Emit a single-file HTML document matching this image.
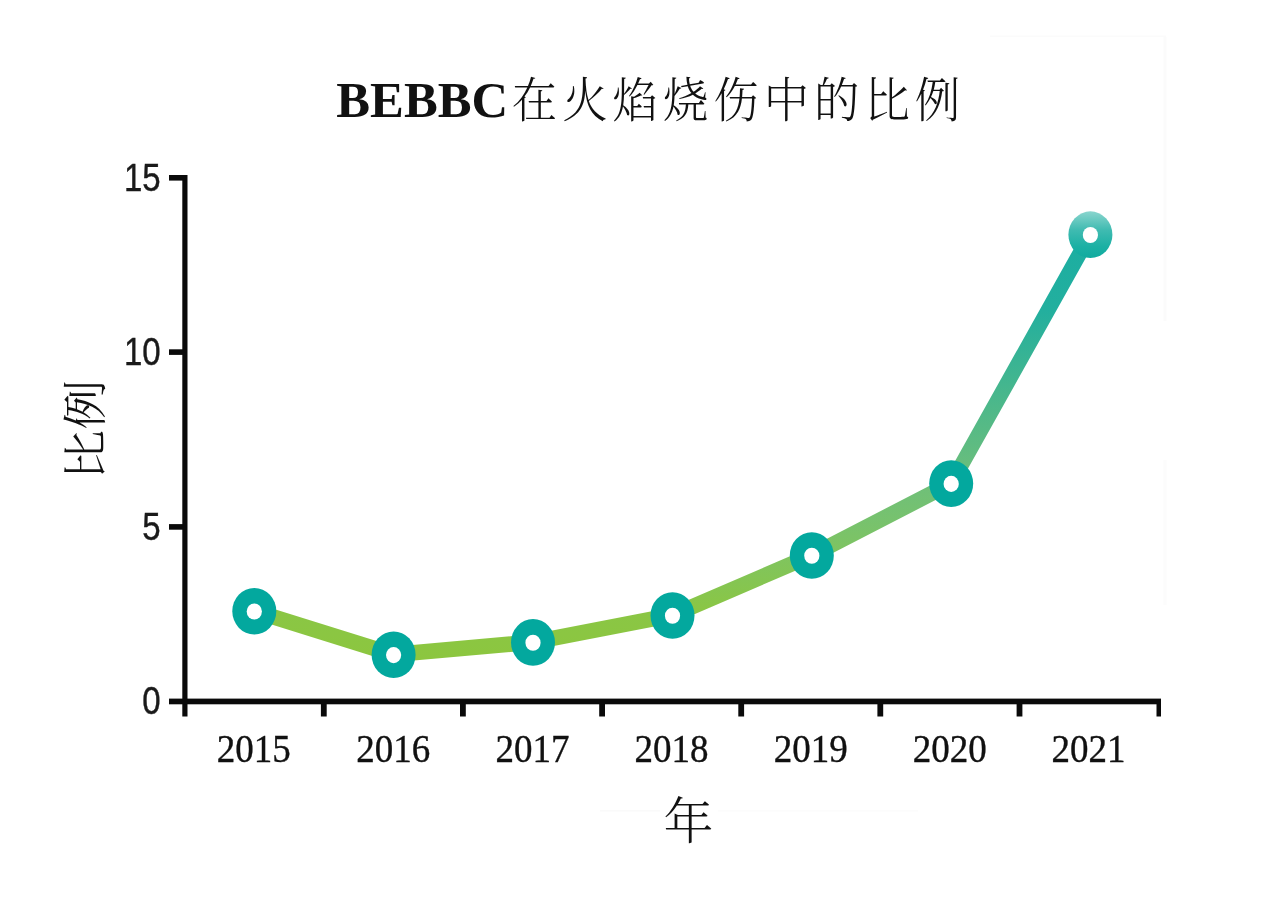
<!DOCTYPE html>
<html lang="zh-CN">
<head>
<meta charset="utf-8">
<title>BEBBC在火焰烧伤中的比例</title>
<style>
  html, body { margin: 0; padding: 0; background: #ffffff; }
  body { width: 1280px; height: 915px; overflow: hidden; }
  svg { display: block; }
  .sans  { font-family: "Liberation Sans", sans-serif; fill: #1a1a1a; }
  .serif { font-family: "Liberation Serif", "Noto Serif CJK SC", serif; fill: #111111; }
  .cjk   { font-family: "Liberation Serif", "Noto Serif CJK SC", serif; font-weight: 300; fill: #111111; }
</style>
</head>
<body>
<svg width="1280" height="915" viewBox="0 0 1280 915">
  <defs>
    <linearGradient id="lineGrad" gradientUnits="userSpaceOnUse" x1="0" y1="622.6" x2="0" y2="220.8">
      <stop offset="0" stop-color="#8cc63f"/>
      <stop offset="0.12" stop-color="#8ac645"/>
      <stop offset="0.25" stop-color="#7fc460"/>
      <stop offset="0.33" stop-color="#77c26e"/>
      <stop offset="0.42" stop-color="#6ebf7a"/>
      <stop offset="0.82" stop-color="#23af9e"/>
      <stop offset="1" stop-color="#1baea2"/>
    </linearGradient>
    <linearGradient id="lastGrad" x1="0" y1="0" x2="0" y2="1">
      <stop offset="0" stop-color="#8ad5ce"/>
      <stop offset="0.4" stop-color="#3fbbb1"/>
      <stop offset="0.75" stop-color="#1cb0a4"/>
      <stop offset="1" stop-color="#10ab9f"/>
    </linearGradient>
  </defs>
  <rect x="0" y="0" width="1280" height="915" fill="#ffffff"/>

  <!-- very faint paste seams visible in the source figure -->
  <g id="seams" fill="#fbfbfb">
    <rect x="990" y="35.5" width="176" height="1.5"/>
    <rect x="1163.5" y="37" width="3" height="284"/>
    <rect x="1163.5" y="460" width="3" height="145" fill="#fcfcfc"/>
    <rect x="600" y="810" width="60" height="1.5" fill="#fafafa"/>
    <rect x="718" y="810" width="200" height="1.5" fill="#fcfcfc"/>
  </g>

  <!-- title -->
  <text id="title" class="serif" font-weight="700" font-size="50.7" x="336.3" y="117">BEBBC</text>
  <text id="title2" class="cjk" font-weight="400" font-size="45.5" letter-spacing="4.9" transform="translate(511.8,116.6) scale(1,1.045)">在火焰烧伤中的比例</text>

  <!-- data line + markers (drawn in a vertically stretched space, like the source figure) -->
  <g id="series" transform="scale(1,1.06)">
    <polyline id="dataline" fill="none" stroke="url(#lineGrad)" stroke-width="14.7" stroke-linejoin="round" stroke-linecap="round"
      points="254.3,576.32 393.6,617.45 533,605.75 672.5,580.38 811.8,523.77 951.2,455.94 1090.4,221.13"/>
    <circle cx="254.3" cy="576.60" r="22" fill="#03a89e"/>
    <circle cx="254.3" cy="576.88" r="7.6" fill="#ffffff"/>
    <circle cx="393.6" cy="617.73" r="22" fill="#03a89e"/>
    <circle cx="393.6" cy="618.02" r="7.6" fill="#ffffff"/>
    <circle cx="533" cy="606.03" r="22" fill="#03a89e"/>
    <circle cx="533" cy="606.32" r="7.6" fill="#ffffff"/>
    <circle cx="672.5" cy="580.66" r="22" fill="#03a89e"/>
    <circle cx="672.5" cy="580.94" r="7.6" fill="#ffffff"/>
    <circle cx="811.8" cy="524.05" r="22" fill="#03a89e"/>
    <circle cx="811.8" cy="524.34" r="7.6" fill="#ffffff"/>
    <circle cx="951.2" cy="456.22" r="22" fill="#03a89e"/>
    <circle cx="951.2" cy="456.51" r="7.6" fill="#ffffff"/>
    <circle cx="1090.4" cy="221.41" r="22" fill="url(#lastGrad)"/>
    <circle cx="1090.4" cy="221.70" r="7.6" fill="#ffffff"/>
  </g>

  <!-- axes -->
  <g id="axes" fill="#0a0a0a">
    <rect x="182.3" y="175" width="5.2" height="541.5"/>
    <rect x="169" y="698.6" width="992" height="5.7"/>
    <rect x="169" y="175" width="16" height="5.6"/>
    <rect x="169" y="349.3" width="16" height="5.6"/>
    <rect x="169" y="524.1" width="16" height="5.6"/>
    <rect x="320.9" y="700" width="5.8" height="16.5"/>
    <rect x="460.0" y="700" width="5.8" height="16.5"/>
    <rect x="599.2" y="700" width="5.8" height="16.5"/>
    <rect x="738.3" y="700" width="5.8" height="16.5"/>
    <rect x="877.4" y="700" width="5.8" height="16.5"/>
    <rect x="1016.6" y="700" width="5.8" height="16.5"/>
    <rect x="1156.5" y="700" width="4.5" height="16.5"/>
  </g>

  <!-- y tick labels -->
  <g class="sans" font-size="33" text-anchor="end" stroke="#1a1a1a" stroke-width="0.35">
    <text id="y15" transform="translate(160.6,191.2) scale(1,1.16)">15</text>
    <text id="y10" transform="translate(160.6,365.4) scale(1,1.16)">10</text>
    <text id="y5" transform="translate(160.6,540) scale(1,1.16)">5</text>
    <text id="y0" transform="translate(160.6,714) scale(1,1.16)">0</text>
  </g>

  <!-- x tick labels -->
  <g class="serif" font-size="37" text-anchor="middle" stroke="#111111" stroke-width="0.35">
    <text id="x2015" transform="translate(253.8,762) scale(1,1.07)">2015</text>
    <text id="x2016" transform="translate(393.2,762) scale(1,1.07)">2016</text>
    <text id="x2017" transform="translate(532.4,762) scale(1,1.07)">2017</text>
    <text id="x2018" transform="translate(671.6,762) scale(1,1.07)">2018</text>
    <text id="x2019" transform="translate(810.7,762) scale(1,1.07)">2019</text>
    <text id="x2020" transform="translate(949.8,762) scale(1,1.07)">2020</text>
    <text id="x2021" transform="translate(1088.6,762) scale(1,1.07)">2021</text>
  </g>

  <!-- axis titles -->
  <text id="xlabel" class="cjk" font-size="50" text-anchor="middle" x="688.5" y="838.5">年</text>
  <text id="ylabel" class="cjk" font-size="45" text-anchor="middle" transform="translate(101.5,429.8) rotate(-90) scale(1.116,1)">比例</text>
</svg>
</body>
</html>
